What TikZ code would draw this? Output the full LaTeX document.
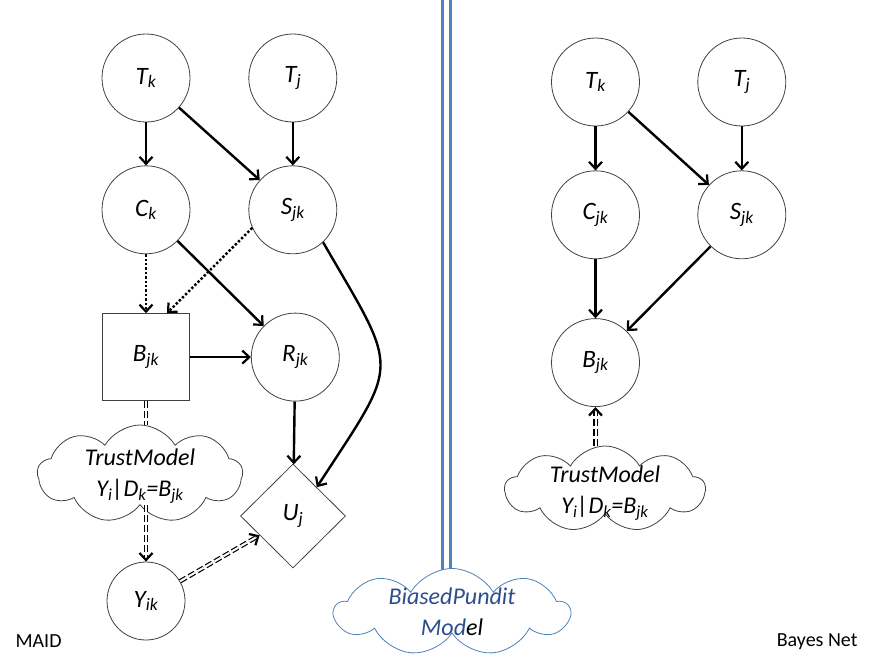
\documentclass[tikz,border=0pt]{standalone}
\usepackage{fontspec}
\setmainfont{Carlito}
\usetikzlibrary{
    calc,
    positioning,
    arrows.meta,
    shapes.geometric,
    shapes.symbols%
}
\definecolor{punditBlue}{RGB}{79,129,189}
\definecolor{punditText}{RGB}{45,78,140}
\newcommand{\low}[1]{\textsubscript{#1}}
\tikzset{
    >={Straight Barb[length=7pt,width=13pt,line width=2.2pt]},
    % Graph nodes
    chance/.style={
        circle,
        draw=black!75,
        line width=0.8pt,
        minimum size=88pt,
        inner sep=0pt,
        font=\fontsize{25}{28}\selectfont\itshape
    },
    decision/.style={
        chance,
        rectangle,
        minimum size=87pt
    },
    utility/.style={
        chance,
        diamond,
        minimum width=105pt,
        minimum height=104pt
    },
    belief/.style={
        cloud,
        cloud puffs=9,
        cloud puff arc=120,
        cloud ignores aspect,
        draw=black!75,
        fill=white,
        line width=0.8pt,
        inner sep=0pt
    },
    beliefText/.style={
        align=center,
        font=\fontsize{24}{31}\selectfont\itshape
    },
    % Links
    link/.style={
        ->,
        line width=2.4pt
    },
    infoLink/.style={
        link,
        dotted
    },
    trustLink/.style={
        line width=1.2pt,
        double,
        double distance=2pt,
        dash pattern=on 7pt off 3pt
    },
    trustArrow/.style={
        trustLink,
        -{Straight Barb[length=7pt,width=13pt,line width=2.2pt]}
    },
    % Split between the two models
    divider/.style={
        draw=punditBlue,
        line width=2.5pt,
        double=white,
        double distance=5.5pt
    },
    caption/.style={
        font=\fontsize{20}{24}\selectfont
    }
}

\begin{document}
\begin{tikzpicture}[x=1pt,y=-1pt]
    \useasboundingbox (0,0) rectangle (869,661);

    % MAID
    \node[chance] (Tk) at (146,78) {T\low{k}};
    \node[chance, right=58pt of Tk] (Tj) {T\low{j}};
    \node[chance, below=43pt of Tk] (Ck) {C\low{k}};
    \node[chance, below=43pt of Tj] (Sjk) {S\low{jk}};
    \node[decision, below=59pt of Ck] (Bjk) {B\low{jk}};
    \node[chance, right=61pt of Bjk] (Rjk) {R\low{jk}};
    \node[belief, minimum width=205pt, minimum height=98pt,
        label={[beliefText, yshift=-2pt]center:TrustModel\\Y\low{i}|D\low{k}=B\low{jk}}] (trustMAID) at (140,474) {};
    \node[utility] (Uj) at (293,516) {U\low{j}};
    \node[chance, minimum size=78pt] (Yik) at (146,601) {Y\low{ik}};

    \draw[link] (Tk) -- (Ck);
    \draw[link] (Tk) -- (Sjk);
    \draw[link] (Tj) -- (Sjk);
    \draw[infoLink] (Ck) -- (Bjk);
    \draw[infoLink] (Sjk.204) -- ([xshift=21pt]Bjk.north);
    \draw[link] (Ck) -- (Rjk);
    \draw[link] (Bjk) -- (Rjk);
    \draw[link] (Rjk) -- (Uj);
    \draw[link] (Sjk.313) .. controls +(77,133) and +(84,-129) .. ($(Uj.north)!0.45!(Uj.east)$);
    \draw[trustLink] (Bjk.south) -- (Bjk.south |- trustMAID.north);
    \draw[trustArrow] (Yik |- trustMAID.south) -- (Yik);
    \draw[trustArrow] (Yik) -- (Uj);

    % Bayes net
    \node[chance] (TkBN) at (595.5,82) {T\low{k}};
    \node[chance, right=57.5pt of TkBN] (TjBN) {T\low{j}};
    \node[chance, below=44pt of TkBN] (CjkBN) {C\low{jk}};
    \node[chance, below=44pt of TjBN] (SjkBN) {S\low{jk}};
    \node[chance, below=59pt of CjkBN] (BjkBN) {B\low{jk}};
    \node[belief, minimum width=200pt, minimum height=86pt,
        label={[beliefText, yshift=-4pt]center:TrustModel\\Y\low{i}|D\low{k}=B\low{jk}}] (trustBN) at (605,489) {};

    \draw[link] (TkBN) -- (CjkBN);
    \draw[link] (TkBN) -- (SjkBN);
    \draw[link] (TjBN) -- (SjkBN);
    \draw[link] (CjkBN) -- (BjkBN);
    \draw[link] (SjkBN) -- (BjkBN);
    \draw[trustArrow] (BjkBN |- trustBN.north) -- (BjkBN);

    % split
    \coordinate (splitTop) at (446.5,0);
    \coordinate (splitBottom) at (446.5,600);
    \draw[divider] (splitTop) -- (splitBottom);
    \node[belief, draw=punditBlue, minimum width=235pt, minimum height=87pt,
        label={[beliefText, text=punditText]center:BiasedPundit\\Mod{\color{black}el}}] (pundit) at (452,612) {};

    \node[caption, anchor=base west] (maidCaption) at (12,647) {MAID};
    \node[caption, anchor=base east] (bnCaption) at (861,646) {Bayes Net};

\end{tikzpicture}
\end{document}
